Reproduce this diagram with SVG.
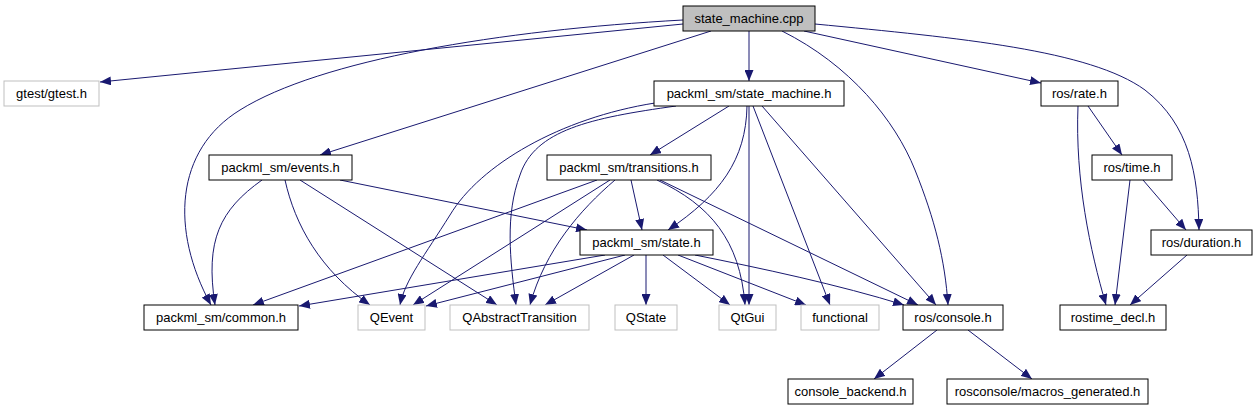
<svg xmlns="http://www.w3.org/2000/svg" width="1257" height="411" viewBox="0 0 1257 411">
<style>
.n rect{fill:#ffffff;stroke:#000000;stroke-width:1}
.n.g rect{stroke:#bfbfbf}
.n.root rect{fill:#bfbfbf}
.n text{font-family:"Liberation Sans",Arial,sans-serif;font-size:13px;fill:#000000;text-anchor:middle}
.e path{fill:none;stroke:#191970;stroke-width:1;marker-end:url(#ah)}
</style>
<defs>
<marker id="ah" markerUnits="userSpaceOnUse" markerWidth="11" markerHeight="9" refX="11" refY="4.5" orient="auto">
<path d="M0,0 L11,4.5 L0,9 Z" fill="#191970"/>
</marker>
</defs>
<rect x="0" y="0" width="1257" height="411" fill="#ffffff"/>
<g id="edges" class="e">
<path d="M683,24 L100,82"/>
<path d="M683,20 C500,30 320,60 240,110 C175,150 170,230 211,305"/>
<path d="M711,31 L320,155"/>
<path d="M749,31 L749,81"/>
<path d="M782,31 C850,65 895,120 915,170 C935,220 945,260 948,305"/>
<path d="M804,31 L1041,83"/>
<path d="M815,24 C960,38 1090,50 1145,90 C1190,125 1198,175 1199,230"/>
<path d="M729,106 L650,155"/>
<path d="M747,106 C746,160 720,195 668,230"/>
<path d="M655,103 C560,118 480,165 450,215 C425,255 405,280 400,305"/>
<path d="M676,106 C590,118 535,130 520,175 C505,215 510,260 516,305"/>
<path d="M749,106 L749,305"/>
<path d="M753,106 L830,305"/>
<path d="M762,106 L936,305"/>
<path d="M631,180 L642,230"/>
<path d="M597,180 L253,305"/>
<path d="M610,180 L413,305"/>
<path d="M615,180 C580,210 545,250 530,305"/>
<path d="M657,180 C710,205 740,240 745,305"/>
<path d="M660,180 L918,305"/>
<path d="M262,180 C220,210 205,240 215,305"/>
<path d="M285,180 C295,225 320,270 370,305"/>
<path d="M300,180 L497,305"/>
<path d="M340,180 L587,230"/>
<path d="M605,255 L299,306"/>
<path d="M625,255 L426,306"/>
<path d="M634,255 L545,305"/>
<path d="M646,255 L646,305"/>
<path d="M663,255 L730,305"/>
<path d="M678,255 L806,305"/>
<path d="M695,255 C760,268 840,285 904,305"/>
<path d="M937,330 L874,379"/>
<path d="M968,330 L1032,379"/>
<path d="M1088,106 L1122,155"/>
<path d="M1078,106 C1075,180 1090,250 1106,305"/>
<path d="M1130,180 L1115,305"/>
<path d="M1143,180 L1186,230"/>
<path d="M1187,255 L1130,305"/>
</g>
<g id="node_cpp" class="n root"><rect x="683" y="6" width="132" height="25"/><text x="749" y="23">state_machine.cpp</text></g>
<g id="node_gtest" class="n g"><rect x="4" y="81" width="95" height="25"/><text x="51.5" y="98">gtest/gtest.h</text></g>
<g id="node_smh" class="n"><rect x="654" y="81" width="190" height="25"/><text x="749" y="98">packml_sm/state_machine.h</text></g>
<g id="node_rate" class="n"><rect x="1041" y="81" width="77" height="25"/><text x="1079.5" y="98">ros/rate.h</text></g>
<g id="node_events" class="n"><rect x="209" y="155" width="143" height="25"/><text x="280.5" y="172">packml_sm/events.h</text></g>
<g id="node_transitions" class="n"><rect x="547" y="155" width="164" height="25"/><text x="629" y="172">packml_sm/transitions.h</text></g>
<g id="node_time" class="n"><rect x="1092" y="155" width="80" height="25"/><text x="1132" y="172">ros/time.h</text></g>
<g id="node_state" class="n"><rect x="580" y="230" width="133" height="25"/><text x="646.5" y="247">packml_sm/state.h</text></g>
<g id="node_duration" class="n"><rect x="1151" y="230" width="101" height="25"/><text x="1201.5" y="247">ros/duration.h</text></g>
<g id="node_common" class="n"><rect x="144" y="305" width="154" height="25"/><text x="221" y="322">packml_sm/common.h</text></g>
<g id="node_qevent" class="n g"><rect x="358" y="305" width="67" height="25"/><text x="391.5" y="322">QEvent</text></g>
<g id="node_qabstract" class="n g"><rect x="450" y="305" width="139" height="25"/><text x="519.5" y="322">QAbstractTransition</text></g>
<g id="node_qstate" class="n g"><rect x="615" y="305" width="62" height="25"/><text x="646" y="322">QState</text></g>
<g id="node_qtgui" class="n g"><rect x="719" y="305" width="57" height="25"/><text x="747.5" y="322">QtGui</text></g>
<g id="node_functional" class="n g"><rect x="801" y="305" width="78" height="25"/><text x="840" y="322">functional</text></g>
<g id="node_console" class="n"><rect x="903" y="305" width="100" height="25"/><text x="953" y="322">ros/console.h</text></g>
<g id="node_rostime_decl" class="n"><rect x="1060" y="305" width="106" height="25"/><text x="1113" y="322">rostime_decl.h</text></g>
<g id="node_console_backend" class="n"><rect x="788" y="379" width="125" height="25"/><text x="850.5" y="396">console_backend.h</text></g>
<g id="node_macros" class="n"><rect x="947" y="379" width="201" height="25"/><text x="1047.5" y="396">rosconsole/macros_generated.h</text></g>
</svg>
